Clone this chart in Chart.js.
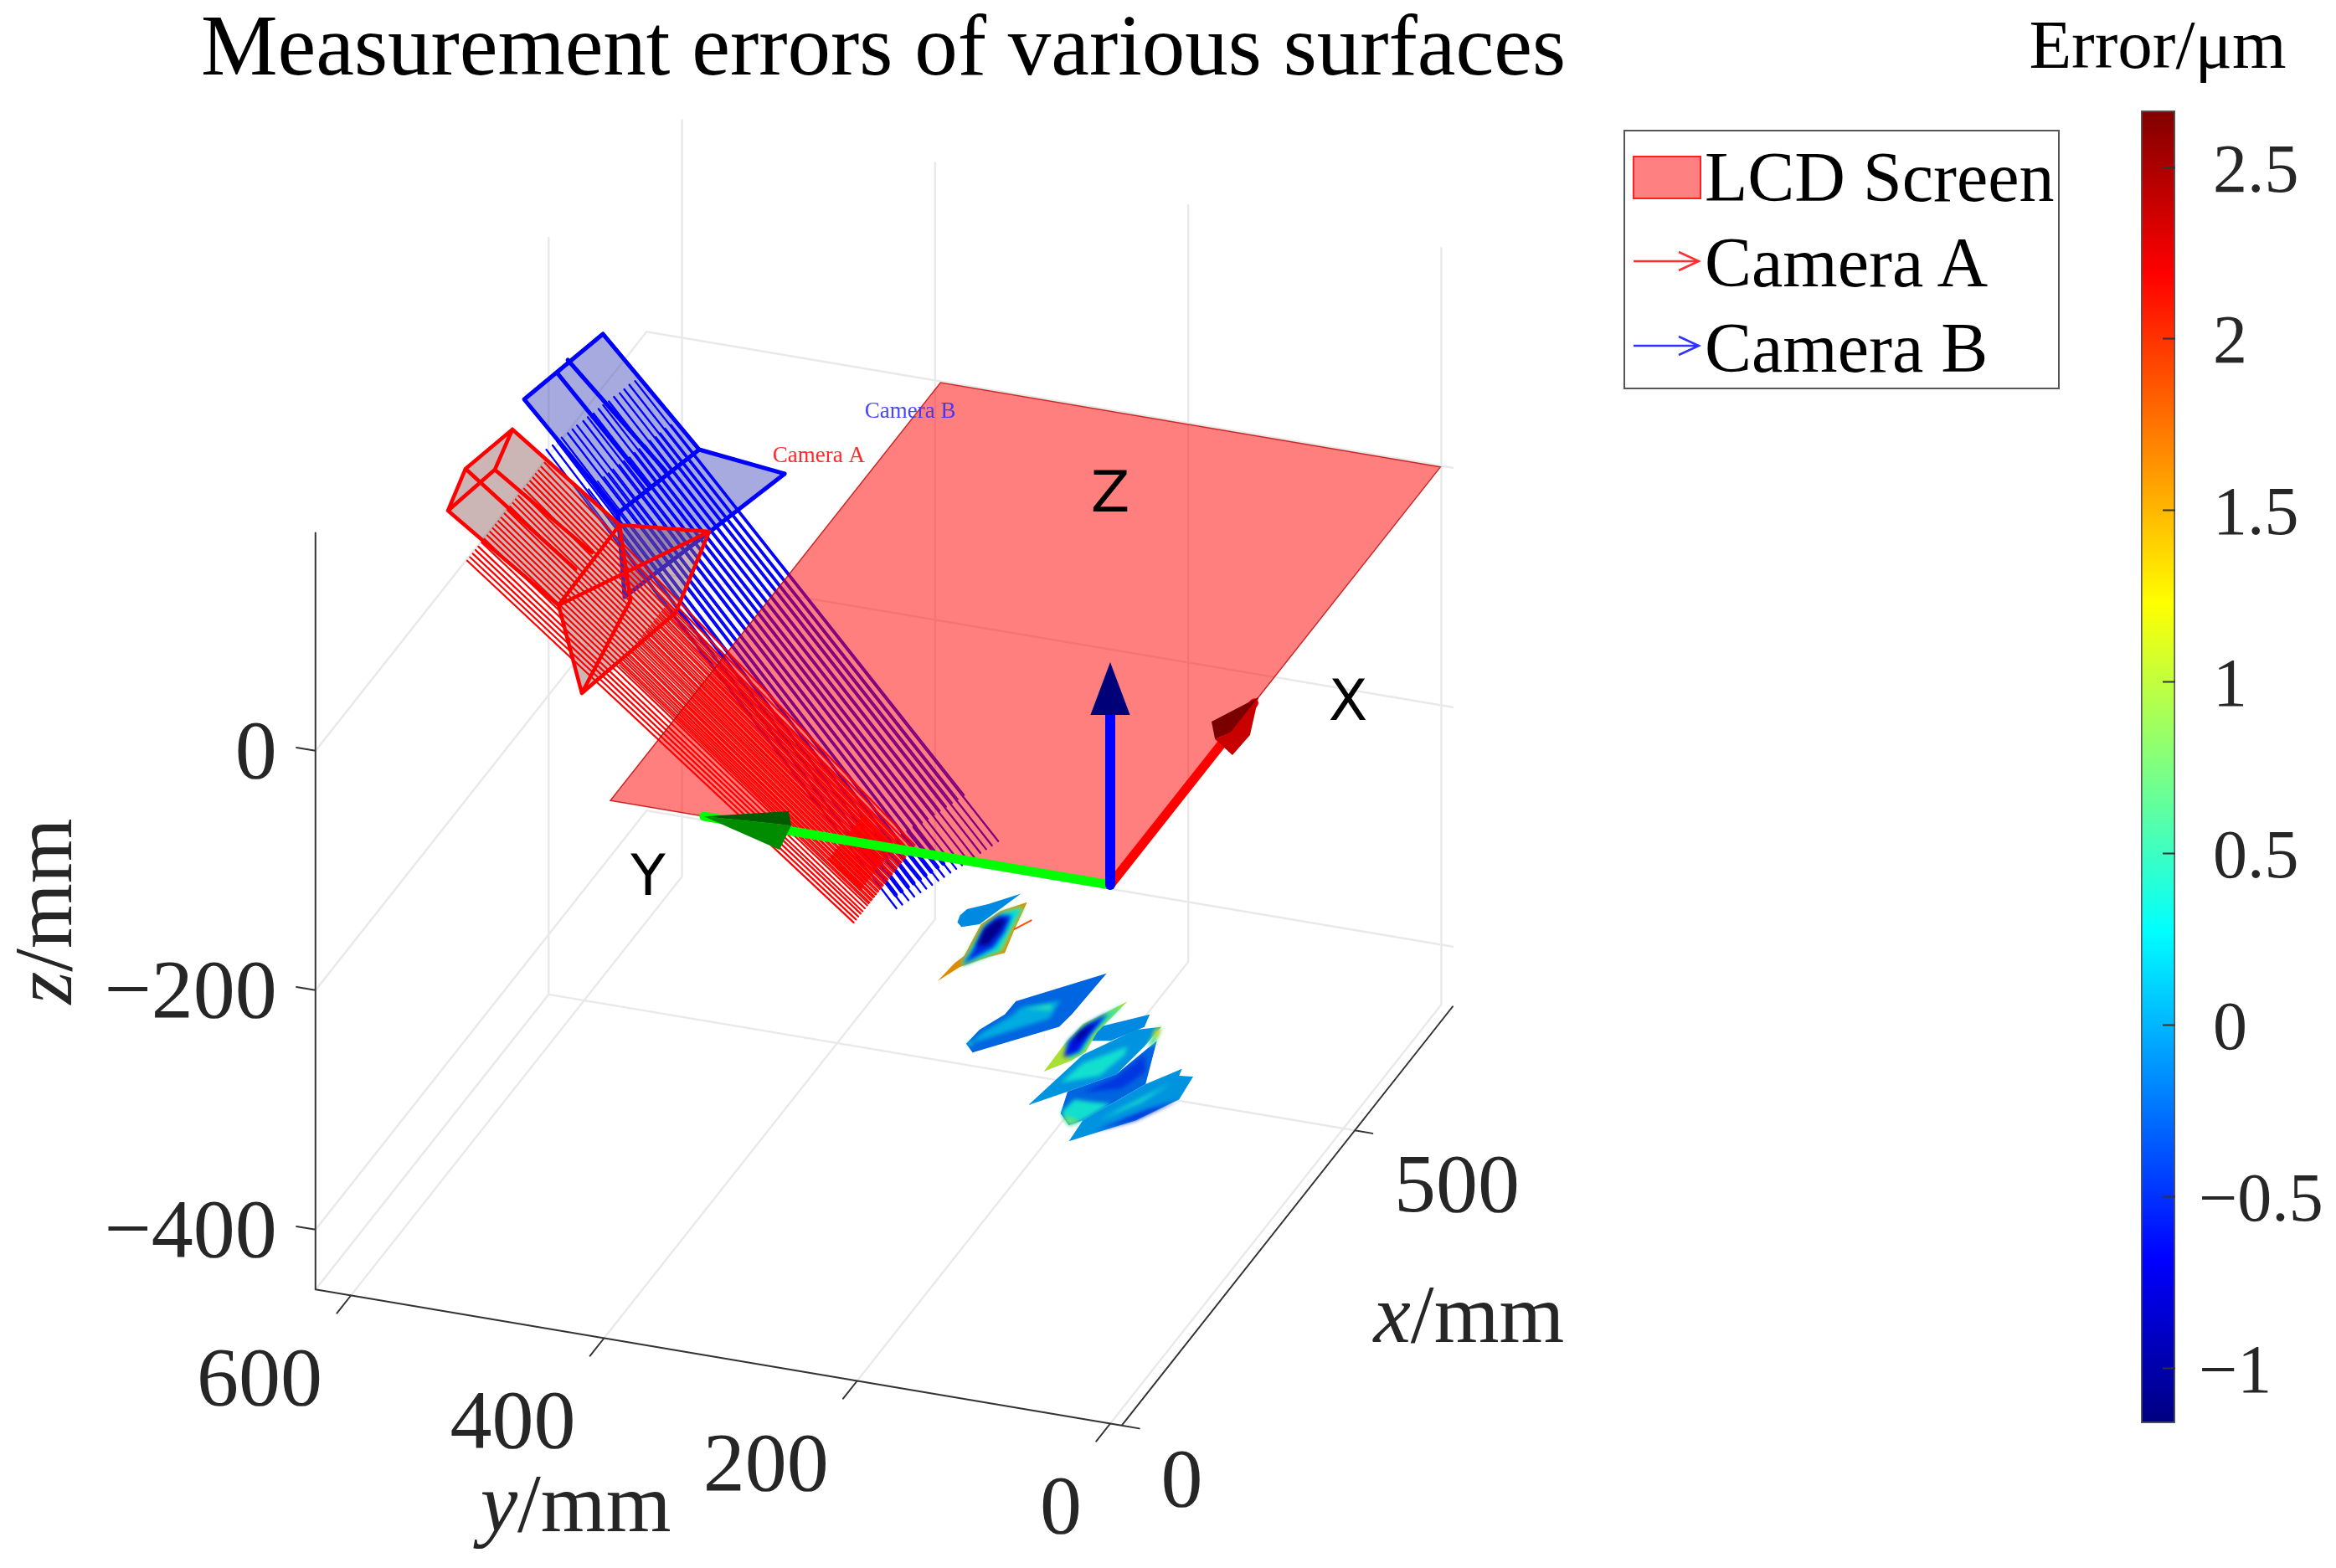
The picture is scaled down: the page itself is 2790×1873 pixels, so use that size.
<!DOCTYPE html>
<html>
<head>
<meta charset="utf-8">
<title>Measurement errors of various surfaces</title>
<script src="https://cdn.jsdelivr.net/npm/chart.js@4/dist/chart.umd.min.js"></script>
<style>
  html, body { margin: 0; padding: 0; background: #fff; overflow: hidden; }
  #page { position: relative; width: 2790px; height: 1873px; }
  canvas { position: absolute; top: 0; }
  #main { left: 0; }
  #bar { left: 2364px; }
  #legend { position: absolute; left: 1939px; top: 155px; width: 517px; height: 306px; border: 2px solid #555; background: #fff;
    font-family: "Liberation Serif", serif; font-size: 84px; line-height: 100px; color: #000; }
  #legend div { position: absolute; left: 95px; white-space: nowrap; }
  #legend svg { position: absolute; left: 8px; }
</style>
</head>
<body>
<div id="page">
  <canvas id="main" width="2110" height="1873"></canvas>
  <div id="legend"></div>
  <canvas id="bar" width="426" height="1873"></canvas>
</div>
<script>
const titleText = 'Measurement errors of various surfaces';
const barTitle = 'Error/μm';
const legendLabels = ['LCD Screen', 'Camera A', 'Camera B'];
const serif = '"Liberation Serif", serif';

// axes (mm)
const xTicks = [0, 500];
const yTicks = [0, 200, 400, 600];
const zTicks = [-400, -200, 0];
const xLim = [0, 710];
const yLim = [-9, 628];
const zLim = [-450, 182];

// colour bar
const errorMin = -1.161;
const errorMax = 2.666;
const errorTicks = [-1, -0.5, 0, 0.5, 1, 1.5, 2, 2.5];
const jetPos = [0, 0.125, 0.375, 0.625, 0.875, 1];
const jetRgb = [[0,0,128],[0,0,255],[0,255,255],[255,255,0],[255,0,0],[128,0,0]];

// LCD screen corners, z = 0
const screenX = [0, 708, 708, 0];
const screenY = [0, 0, 395, 395];

// coordinate triad
const arrowX = 318, arrowY = 321, arrowZ = 186;

// camera B rays, start z = 150, end z = -400
const rayBStartX = [240,248,255,262,270,277,284,292,299,306,314,321,328,336,343,350,358,365];
const rayBStartY = [534,532,531,530,528,527,526,524,523,521,520,519,517,516,514,513,512,510];
const rayBEndX = [627,634,642,649,657,664,671,679,686,694,701,708,716,723,731,738,745,753];
const rayBEndY = [400,398,396,394,392,390,388,386,384,382,380,378,376,374,372,370,368,366];
// second layer, z = 95 to -345
const rayB2StartX = [282,290,297,304,312,319,326,334,341,348,356,363,370,378,385,392,400,407];
const rayB2StartY = [521,519,518,517,515,514,513,511,510,508,507,506,504,503,501,500,499,497];
const rayB2EndX = [589,596,604,611,619,626,633,641,648,656,663,670,678,685,693,700,707,715];
const rayB2EndY = [413,411,409,407,405,403,401,399,397,395,393,391,389,387,385,383,381,379];
// arrow heads crowd together near the ends, z = -345 to -389
const rayBTipStartX = [596,603,611,618,625,633,640,647,655];
const rayBTipStartY = [411,409,407,405,404,402,400,398,396];
const rayBTipEndX = [627,634,642,649,657,664,671,679,686];
const rayBTipEndY = [400.5,398.5,396.5,394.6,392.6,390.7,388.7,386.7,384.8];

// camera A rays, start z = 150, end z = -400
const rayAStartX = [54,60,66,72,78,85,91,97,103,109,115,121,127,134,140,146,152,158,164,170,176,183,189,195,201,207,213,220];
const rayAStartY = 528;
const rayAEndX = [595,600,605,610,614,619,624,629,634,639,643,648,653,658,663,668,672,677,682,687,692,697,701,706,711,716,721,726];
const rayAEndY = 422;
// second layer, z = -42 to -400
const rayA2StartX = [280,285,291,297,303,308,314,320,325,331,337,342,348,354,359,365,371,376,382];
const rayA2StartY = 491;
const rayA2EndX = [627,632,637,642,646,651,656,661,666,671,675,680,685,690,695,700,704,709,714];
// crowded ends, z = -339.5 to -383.5
const rayATipStartX = [575,580,585,590,595,600,605,610,615,620,625,630,635,640,645];
const rayATipStartY = 433.7;
const rayATipEndX = [618,622,627,632,637,642,647,652,657,661,666,671,676,681,686];
const rayATipEndY = 425.2;

// camera frustums, z = 150
const camBX = [427.2,309.7,379.5,358,278.7,163.2,264,158.8,39.7,237.8,208.9];
const camBY = [558.3,577.2,568.5,569.2,427.5,449.1,354.6,374.8,398.3,438.9,440.2];
const camBEdges = [[0,1],[0,4],[1,5],[4,5],[2,9],[3,10],[4,6],[6,7],[5,8],[8,7]];
const camBFaces = [[0,1,5,4],[4,6,7,5],[5,7,8]];
const camAX = [261.7,191,124,197.1,146,158.6,10.5,-115.1,28.7,36.1,68.5,97.7];
const camAY = [568.8,579.8,569,558.9,441.5,375.3,439.8,375.1,354,392.4,447.9,445.6];
const camAEdges = [[0,1],[0,3],[1,2],[2,3],[0,4],[1,10],[3,11],[2,6],[4,6],[4,5],[5,6],[5,8],[6,7],[7,8],[9,7],[4,9]];
const camAFaces = [[0,1,2,6,4],[4,5,8,7,6]];

// measured surfaces, z = -400: outline points and error per patch
const surfaceZ = -400;
const surfaceValues = [-0.1,-0.1,1.6,0.8,0.25,-0.5,-1.05,-0.25,0.05,0.45,0.4,-0.05,0.35,-0.25,-0.45,0.35,0.75,0.6,1.3,-0.05,0.35,-0.5,1.0,0.3,-0.6,-1.05];
const surfaceSharp = [0,1,2,7,11,13,19,22];
const surfaceX = [
  [532.3,501,477.9,482.9,512.2],
  [680.1,656.3,643.5,632.6,621.5,615.4,624.2,650.8],
  [669.1,625.5,587.5,577.1,555.4,528.9,559.5,573.1,624.6,649.1],
  [663.5,625,589.9,578.6,556.7,574.9,623.7,648.1],
  [658.6,624.3,590.3,578.8,558.7,576.4,624.3,647.7],
  [645.6,618.8,593.1,560.3,579.1,622.2,642.4],
  [638,617.4,595.8,590.9,617.8,635.5],
  [582.8,518.1,495.7,466.5,442.2,430.5,490.8,512.6],
  [530.7,510.5,495.4,463,443.1,456.1,500.8],
  [522.3,509.1,513.6],
  [442.2,448,439.3],
  [516.4,505.9,454.9,366.1,396.1,434.2,482.9],
  [478.7,442.4,407.6,427.9,465.5],
  [494.5,434.2,396.1,361.7,346.3,356.9,427],
  [470.4,430.1,398.6,414.8,445.8],
  [386.1,363.9,346.3,356.9,389,386.9],
  [360,346.3,355.1],
  [516.4,510.8,483.6,489.9],
  [516.4,512.4,499.6,500.9],
  [459.1,427,356.9,322.1,370.3,412.5,450.2,447.9],
  [435.8,385.6,361.2,398.8],
  [412.5,370.3,343.1,387],
  [546.3,491.9,459.8,443.8,420.1,467.1,500.8,523.2],
  [540.2,491.2,459.1,445.2,467.4,499.1,521.1],
  [523.9,485.9,458.1,445.9,472.3,499.4],
  [505.8,482,469.2,487.3]
];
const surfaceY = [
  [164.9,193,191.1,177.5,161.8],
  [321.2,338.4,350.3,351.8,349.8,344.3,333.3,327.6],
  [312.3,306.1,299.8,309.2,323.4,331.2,329.2,326.6,332.3,325.9],
  [312,307.5,302.5,310.2,323.8,325.7,330.4,324.4],
  [312.8,309.4,305.3,311,323.4,324.1,328.9,323.1],
  [315.8,311.4,310.7,322.9,323.2,328.1,324.5],
  [317.4,315.3,316.1,323.2,327.5,324.2],
  [217.6,265.5,266,275.2,276.8,267.4,221.2,219.3],
  [234.8,258.3,260.4,271.6,274.3,264.6,232.6],
  [238.4,255.5,236.2],
  [276.8,273.8,271.7],
  [150.2,166.2,189.3,199.6,179.7,155.2,151],
  [162.7,184.7,189.5,166.1,160.1],
  [145.4,155.2,179.7,172.5,160.3,153.2,129.4],
  [146.4,153.6,168.6,143.6,136.3],
  [170.5,172.9,160.3,153.2,142.9,155.4],
  [170.8,160.3,154.2],
  [150.2,152.6,149.1,144.9],
  [150.2,152,150.6,147.1],
  [112.5,129.4,153.2,151.4,116.2,97.5,100.4,110.6],
  [111.7,132.8,141.5,122.3],
  [97.5,116.2,139.3,115.7],
  [187.6,191.8,188.9,194,207.3,208.1,206.2,196.8],
  [188.7,193.8,190.9,196.7,207.1,204.5,196],
  [194.8,195.2,193.8,201.4,206.7,203.5],
  [199.2,199.3,202.3,204.5]
];

// the 3D view of the axes as a plane projection
function project(x, y, z) {
  return { x: 1326 + 0.557 * x - 1.5115 * y, y: 1057 - 0.705 * x - 0.255 * y - 1.43 * z };
}

function jet(v, shade) {
  const t = (v - errorMin) / (errorMax - errorMin);
  let c = jetRgb[jetRgb.length - 1];
  for (let i = 1; i < jetPos.length; i++) {
    if (t <= jetPos[i]) {
      const f = (t - jetPos[i - 1]) / (jetPos[i] - jetPos[i - 1]);
      c = jetRgb[i].map((n, k) => jetRgb[i - 1][k] + (n - jetRgb[i - 1][k]) * f);
      break;
    }
  }
  return 'rgb(' + c.map(n => Math.round(n * (shade || 1))).join(',') + ')';
}

const datasets = [];
function addLines(segs, color, width, label) {
  const data = [];
  segs.forEach(function (s) {
    data.push(project(s[0], s[1], s[2]), project(s[3], s[4], s[5]), { x: NaN, y: NaN });
  });
  datasets.push({ label: label, data: data, showLine: true, borderColor: color, borderWidth: width, pointRadius: 0, clip: false, order: -datasets.length, borderCapStyle: 'round' });
}
function addPoly(pts, fillColor, lineColor, width, label, soft) {
  const data = pts.map(p => project(p[0], p[1], p[2]));
  data.push(data[0]);
  datasets.push({ label: label, data: data, showLine: true, fill: 'shape', backgroundColor: fillColor, borderColor: lineColor || 'transparent', borderWidth: width || 0, pointRadius: 0, clip: false, order: -datasets.length, soft: !!soft });
}

// back walls and floor grid
const gridSegs = [];
yTicks.forEach(y => {
  gridSegs.push([xLim[0], y, zLim[0], xLim[1], y, zLim[0]]);
  gridSegs.push([xLim[1], y, zLim[0], xLim[1], y, zLim[1]]);
});
gridSegs.push([xTicks[1], yLim[0], zLim[0], xTicks[1], yLim[1], zLim[0]]);
gridSegs.push([xTicks[1], yLim[1], zLim[0], xTicks[1], yLim[1], zLim[1]]);
zTicks.forEach(z => {
  gridSegs.push([xLim[0], yLim[1], z, xLim[1], yLim[1], z]);
  gridSegs.push([xLim[1], yLim[1], z, xLim[1], yLim[0], z]);
});
gridSegs.push([xLim[0], yLim[1], zLim[0], xTicks[1], yLim[1], zLim[0]]);
addLines(gridSegs, 'rgba(0,0,0,0.085)', 2.5, 'grid');

// axis lines and tick marks
const axisSegs = [
  [xLim[0], yLim[1], zLim[0], xLim[0], yLim[1], zLim[1]],
  [xLim[0], yLim[0], zLim[0], xLim[0], yLim[1], zLim[0]],
  [xLim[0], yLim[0], zLim[0], xLim[1], yLim[0], zLim[0]]
];
yTicks.forEach(y => axisSegs.push([xLim[0], y, zLim[0], xLim[0] - 30, y, zLim[0]]));
xTicks.forEach(x => axisSegs.push([x, yLim[0], zLim[0], x, yLim[0] - 14, zLim[0]]));
zTicks.forEach(z => axisSegs.push([xLim[0], yLim[1], z, xLim[0], yLim[1] + 15, z]));
addLines(axisSegs, '#333', 2, 'axes');

// surfaces
surfaceValues.forEach(function (v, i) {
  addPoly(surfaceX[i].map((x, k) => [x, surfaceY[i][k], surfaceZ]), jet(v, 0.88), null, 0, 'surface ' + i, surfaceSharp.indexOf(i) < 0);
});
addLines([[625.5, 306.1, surfaceZ, 643, 299.4, surfaceZ]], jet(1.9), 2, 'surface edge');

// cameras and their rays
function camPoint(xs, ys, i) { return [xs[i], ys[i], 150]; }
camBFaces.forEach(f => addPoly(f.map(i => camPoint(camBX, camBY, i)), 'rgba(80,85,190,0.5)', null, 0, 'camera B body'));
addLines(rayBStartX.map((x, i) => [x, rayBStartY[i], 150, rayBEndX[i], rayBEndY[i], -400]), '#0000ff', 2.3, 'Camera B');
addLines(rayB2StartX.map((x, i) => [x, rayB2StartY[i], 95, rayB2EndX[i], rayB2EndY[i], -345]), '#0000ff', 2, 'Camera B 2');
addLines(rayBTipStartX.map((x, i) => [x, rayBTipStartY[i], -345, rayBTipEndX[i], rayBTipEndY[i], -389]), '#0000ff', 5, 'Camera B tips');
addLines(camBEdges.map(e => camPoint(camBX, camBY, e[0]).concat(camPoint(camBX, camBY, e[1]))), '#0000ff', 5, 'camera B frame');

camAFaces.forEach(f => addPoly(f.map(i => camPoint(camAX, camAY, i)), 'rgba(140,90,90,0.45)', null, 0, 'camera A body'));
addLines(rayAStartX.map((x, i) => [x, rayAStartY, 150, rayAEndX[i], rayAEndY, -400]), '#ff0000', 2.2, 'Camera A');
addLines(rayA2StartX.map((x, i) => [x, rayA2StartY, -42, rayA2EndX[i], rayAEndY, -400]), '#ff0000', 1.6, 'Camera A 2');
addLines(rayATipStartX.map((x, i) => [x, rayATipStartY, -339.5, rayATipEndX[i], rayATipEndY, -383.5]), '#ff0000', 4, 'Camera A tips');
addLines(camAEdges.map(e => camPoint(camAX, camAY, e[0]).concat(camPoint(camAX, camAY, e[1]))), '#ff0000', 4.5, 'camera A frame');

// LCD screen sits over the rays
addPoly(screenX.map((x, i) => [x, screenY[i], 0]), 'rgba(255,0,0,0.5)', 'rgba(190,0,0,0.8)', 1.5, 'LCD Screen');

// triad
addLines([[0, 0, 0, arrowX - 10, 0, 0]], '#ff0000', 11, 'x arrow');
addPoly([[318,0,0],[269.6,19.3,0],[244.2,7.2,0],[259,0,0]], '#7a0000', null, 0, 'x head');
addPoly([[318,0,0],[259,0,0],[244.2,7.2,0],[224.8,-13.7,0],[259.3,-14.9,0]], '#c80000', null, 0, 'x head');
addLines([[0, 0, 0, 0, arrowY, 0]], '#00ff00', 11, 'y arrow');
addPoly([[0,321,0],[29.1,264.8,0],[8.5,255.1,0]], '#005a00', null, 0, 'y head');
addPoly([[0,321,0],[8.5,255.1,0],[-30.8,250,0]], '#008c00', null, 0, 'y head');
addLines([[0, 0, 0, 0, 0, 145]], '#0000ff', 12, 'z arrow');
addPoly([[5,-13.8,142],[-5,13.8,142],[0,0,arrowZ]], '#000078', null, 0, 'z head');

// inner surface layers get soft edges; the next dataset's fill starts before its own hook
const softPlugin = {
  id: 'softEdges',
  beforeDatasetsDraw(chart) { chart.ctx.filter = 'none'; },
  afterDatasetDraw(chart, args) {
    const next = chart.data.datasets[args.index + 1];
    chart.ctx.filter = next && next.soft ? 'blur(2.5px)' : 'none';
  },
  afterDatasetsDraw(chart) { chart.ctx.filter = 'none'; }
};

// text that sits at 3D positions
const axisTextPlugin = {
  id: 'axisText',
  afterDatasetsDraw(chart) {
    const ctx = chart.ctx, sx = chart.scales.x, sy = chart.scales.y;
    function put(text, p, dx, dy, font, color, align) {
      ctx.font = font; ctx.fillStyle = color; ctx.textAlign = align; ctx.textBaseline = 'middle';
      ctx.fillText(text, sx.getPixelForValue(p.x) + dx, sy.getPixelForValue(p.y) + dy);
    }
    const tickFont = '100px ' + serif;
    zTicks.forEach(z => put(String(z).replace('-', '\u2212'), project(xLim[0], yLim[1], z), -46, 6, tickFont, '#262626', 'right'));
    yTicks.forEach(y => put(String(y), project(xLim[0], y, zLim[0]), -34, 104, tickFont, '#262626', 'right'));
    xTicks.forEach(x => put(String(x), project(x, yLim[0], zLim[0]), 47, 70, tickFont, '#262626', 'left'));

    // axis titles, italic letter then /mm
    function axisTitle(letter, x0, y0) {
      ctx.textBaseline = 'middle'; ctx.textAlign = 'left'; ctx.fillStyle = '#262626';
      ctx.font = 'italic 100px ' + serif;
      const w1 = ctx.measureText(letter).width;
      ctx.font = '100px ' + serif;
      const w2 = ctx.measureText('/mm').width;
      ctx.font = 'italic 100px ' + serif;
      ctx.fillText(letter, x0 - (w1 + w2) / 2, y0);
      ctx.font = '100px ' + serif;
      ctx.fillText('/mm', x0 - (w1 + w2) / 2 + w1, y0);
    }
    const px = project(355, yLim[0], zLim[0]), py = project(xLim[0], 300, zLim[0]), pz = project(xLim[0], yLim[1], -134);
    axisTitle('x', sx.getPixelForValue(px.x) + 217, sy.getPixelForValue(px.y) + 124);
    axisTitle('y', sx.getPixelForValue(py.x) - 185, sy.getPixelForValue(py.y) + 179);
    ctx.save();
    ctx.translate(sx.getPixelForValue(pz.x) - 318, sy.getPixelForValue(pz.y));
    ctx.rotate(-Math.PI / 2);
    axisTitle('z', 0, 0);
    ctx.restore();

    // triad letters and camera names
    const letterFont = '68px "DejaVu Sans", sans-serif';
    put('X', project(336.6, -63.9, 0), 0, 6, letterFont, '#000', 'center');
    put('Y', project(-102.7, 327.4, 0), 0, 5, letterFont, '#000', 'center');
    put('Z', project(0, 0, 330), 0, 8, letterFont, '#000', 'center');
    put('Camera A', project(300, 340.9, 150), 0, 1, '27px ' + serif, 'rgba(255,30,30,0.95)', 'center');
    put('Camera B', project(389.5, 301.6, 150), 0, 1, '27px ' + serif, 'rgba(50,50,255,0.9)', 'center');
  }
};

new Chart(document.getElementById('main').getContext('2d'), {
  type: 'scatter',
  data: { datasets: datasets },
  options: {
    responsive: false,
    animation: false,
    devicePixelRatio: 1,
    layout: { padding: 0, autoPadding: false },
    plugins: {
      legend: { display: false },
      tooltip: { enabled: false },
      title: {
        display: true,
        text: titleText,
        color: '#000',
        font: { family: serif, size: 103, weight: 'normal' },
        padding: { top: 0, bottom: 1.4 }
      }
    },
    scales: {
      x: { type: 'linear', display: false, min: 0, max: 2110 },
      y: { type: 'linear', display: false, reverse: true, min: 125, max: 1873 }
    }
  },
  plugins: [softPlugin, axisTextPlugin]
});

// colour bar, labels drawn from its own scale a little under the tick marks
const barLabelPlugin = {
  id: 'barLabels',
  afterDraw(chart) {
    const ctx = chart.ctx, scale = chart.scales.y;
    ctx.save();
    ctx.font = '82px ' + serif;
    ctx.fillStyle = '#262626';
    ctx.textAlign = 'left';
    ctx.textBaseline = 'middle';
    errorTicks.forEach(function (v) {
      const text = v < 0 ? '\u2212' + Math.abs(v) : String(v);
      ctx.fillText(text, scale.left + (v < 0 ? 28 : 45), scale.getPixelForValue(v) + 7);
    });
    ctx.restore();
  }
};

new Chart(document.getElementById('bar').getContext('2d'), {
  type: 'bar',
  data: {
    labels: ['Error'],
    datasets: [{
      yAxisID: 'y',
      xAxisID: 'x',
      data: [[errorMin, errorMax]],
      barPercentage: 1,
      categoryPercentage: 1,
      borderColor: '#555',
      borderWidth: 2,
      borderSkipped: false,
      backgroundColor: function (c) {
        const area = c.chart.chartArea;
        if (!area) return '#000';
        const g = c.chart.ctx.createLinearGradient(0, area.bottom, 0, area.top);
        jetPos.forEach((p, i) => g.addColorStop(p, 'rgb(' + jetRgb[i].join(',') + ')'));
        return g;
      }
    }]
  },
  options: {
    responsive: false,
    animation: false,
    devicePixelRatio: 1,
    layout: { padding: { left: 0, bottom: 173, top: 0, right: 0 }, autoPadding: false },
    plugins: {
      legend: { display: false },
      tooltip: { enabled: false },
      title: {
        display: true,
        text: barTitle,
        color: '#000',
        font: { family: serif, size: 83, weight: 'normal' },
        padding: { top: 9, bottom: 23.4 }
      }
    },
    scales: {
      x: { display: false },
      pad: {
        axis: 'y',
        type: 'linear',
        position: 'left',
        min: 0,
        max: 1,
        afterFit(scale) { scale.width = 193; },
        ticks: { display: false },
        grid: { display: false },
        border: { display: false }
      },
      y: {
        position: 'right',
        min: errorMin,
        max: errorMax,
        afterBuildTicks(scale) { scale.ticks = errorTicks.map(v => ({ value: v })); },
        afterFit(scale) { scale.width = 192; },
        border: { display: false },
        grid: { z: 1, drawOnChartArea: false, tickLength: -15, tickColor: '#333', tickWidth: 2 },
        ticks: { display: false }
      }
    }
  },
  plugins: [barLabelPlugin]
});

// legend box
const legend = document.getElementById('legend');
const legendTop = [5, 107, 209];
const legendKey = [
  '<svg width="84" height="56" style="top:28px"><rect x="2" y="2" width="80" height="50" fill="#ff8080" stroke="#ff2020" stroke-width="2"/></svg>',
  '<svg width="84" height="40" style="top:135px"><path d="M2 20H80M56 9L80 20L56 31" fill="none" stroke="#ff3030" stroke-width="2.5"/></svg>',
  '<svg width="84" height="40" style="top:236px"><path d="M2 20H80M56 9L80 20L56 31" fill="none" stroke="#3030ff" stroke-width="2.5"/></svg>'
];
legendLabels.forEach(function (name, i) {
  const d = document.createElement('div');
  d.textContent = name;
  d.style.top = legendTop[i] + 'px';
  legend.appendChild(d);
  legend.insertAdjacentHTML('beforeend', legendKey[i]);
});
</script>
</body>
</html>
